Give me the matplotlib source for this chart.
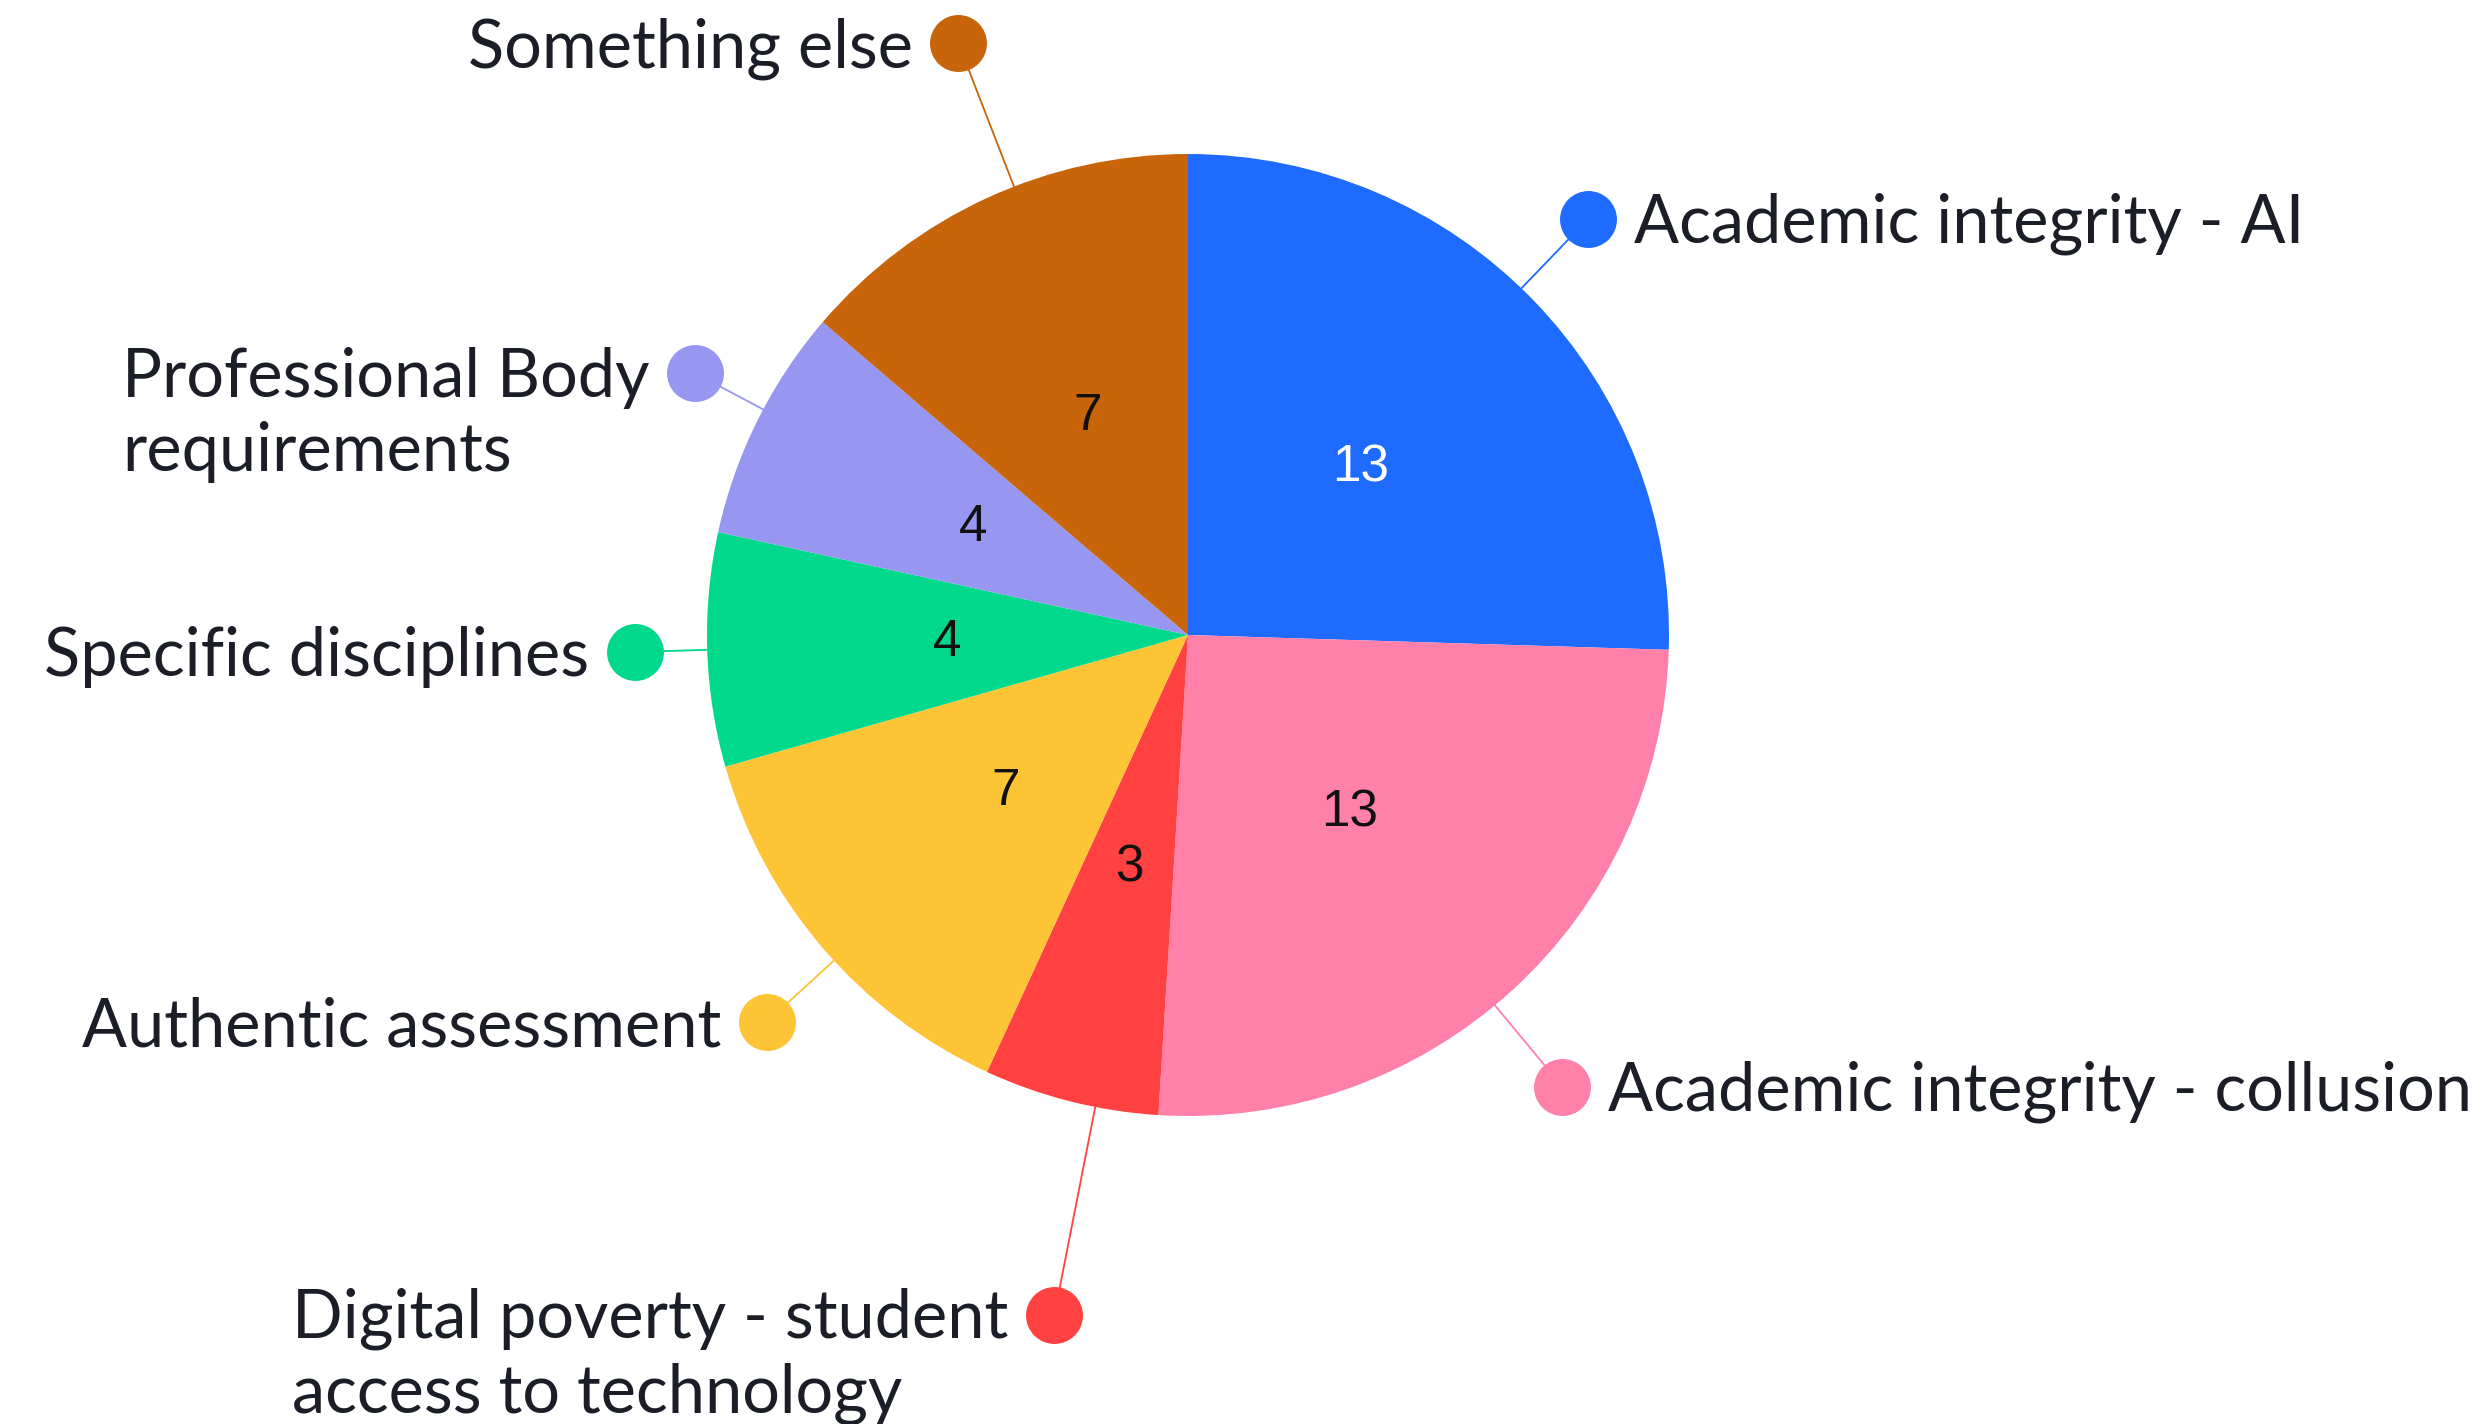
import numpy as np
import matplotlib.pyplot as plt

# data (clockwise from 12 o'clock)
categories = ["Academic integrity - AI",
              "Academic integrity - collusion",
              "Digital poverty - student\naccess to technology",
              "Authentic assessment",
              "Specific disciplines",
              "Professional Body\nrequirements",
              "Something else"]
counts = [13, 13, 3, 7, 4, 4, 7]
colors = ["#1f6bff", "#ff80a8", "#ff4141", "#fdc436", "#00d98b", "#9797f2", "#c8640a"]
number_colors = ["white", "#111111", "#111111", "#111111", "#111111", "#111111", "#111111"]

# layout (pixels, y up)
W, H = 2490, 1424
cx, cy, R = 1188, H - 635, 481
label_dist = [1.20, 1.22, 1.44, 1.19, 1.15, 1.16, 1.32]   # dot distance / radius
label_nudge = [-2.0, 2.7, -3.0, -2.0, 0.0, 1.5, 3.5]       # degrees
text_col = "#1c1e27"
fs = 48

fig = plt.figure(figsize=(W / 100, H / 100), dpi=100)
ax = fig.add_axes([0, 0, 1, 1])

total = sum(counts)
wedges, texts, autotexts = ax.pie(
    counts, colors=colors, startangle=90, counterclock=False,
    center=(cx, cy), radius=R, wedgeprops=dict(linewidth=0),
    autopct=lambda p: f"{int(round(p * total / 100))}", pctdistance=0.5,
    textprops=dict(fontsize=37, family="Liberation Sans"))
for t, c in zip(autotexts, number_colors):
    t.set_color(c)

cum = np.cumsum([0] + counts[:-1])
for i, (lab, v) in enumerate(zip(categories, counts)):
    theta = np.deg2rad((cum[i] + v / 2) / total * 360 + label_nudge[i])
    sx, sy = np.sin(theta), np.cos(theta)
    dx, dy = cx + R * label_dist[i] * sx, cy + R * label_dist[i] * sy
    ax.plot([cx + R * 0.99 * sx, dx], [cy + R * 0.99 * sy, dy], color=colors[i], lw=1.3, zorder=3)
    ax.plot(dx, dy, "o", ms=41, color=colors[i], mec="none", zorder=4)
    right = sx > 0
    off = 33 if right else -33
    if "\n" not in lab:
        ax.annotate(lab, (dx, dy), xytext=(off, -0.36 * fs), textcoords="offset points",
                    ha="left" if right else "right", va="baseline",
                    fontsize=fs, color=text_col, family="Lato")
    else:
        ax.annotate(lab, (dx, dy), xytext=(off, 0.40 * fs), textcoords="offset points",
                    ha="left" if right else "right", va="top", multialignment="left",
                    linespacing=1.24, fontsize=fs, color=text_col, family="Lato")

ax.set_xlim(0, W)
ax.set_ylim(0, H)
ax.set_aspect("equal")
ax.axis("off")
fig.savefig("out.png", dpi=100, facecolor="white")
